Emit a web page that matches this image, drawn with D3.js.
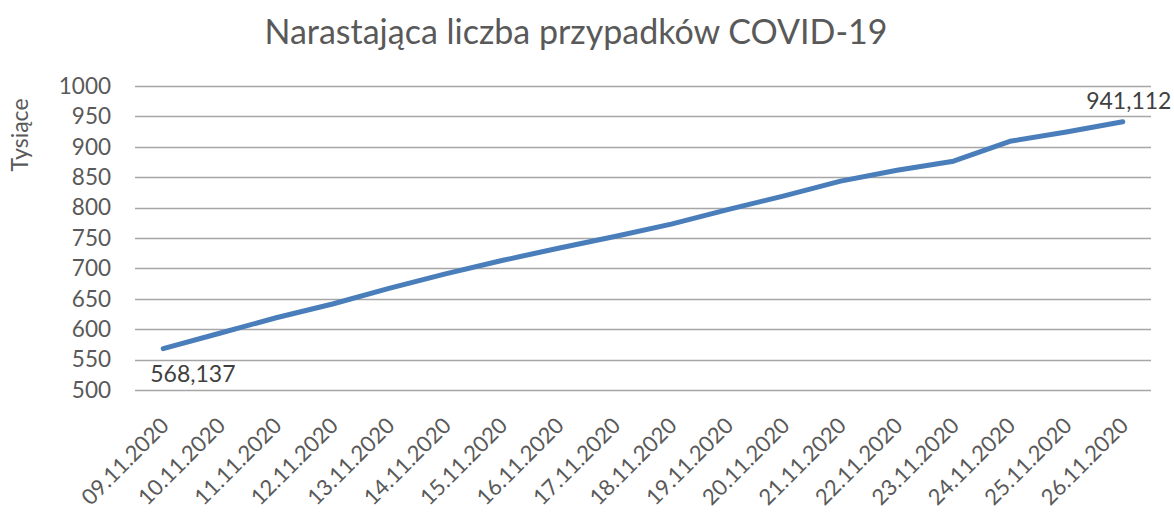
<!DOCTYPE html>
<html lang="pl">
<head>
  <meta charset="UTF-8">
  <title>Narastająca liczba przypadków COVID-19</title>
  <script src="https://d3js.org/d3.v7.min.js"></script>
  <style>
    body { margin: 0; background: #fff; }
    svg { display: block; font-family: Lato, "Open Sans", sans-serif; }
    .tick text { fill: #595959; }
  </style>
</head>
<body>
  <script>
    const dates = ["09.11.2020", "10.11.2020", "11.11.2020", "12.11.2020", "13.11.2020", "14.11.2020",
      "15.11.2020", "16.11.2020", "17.11.2020", "18.11.2020", "19.11.2020", "20.11.2020",
      "21.11.2020", "22.11.2020", "23.11.2020", "24.11.2020", "25.11.2020", "26.11.2020"];
    // cumulative cases, thousands
    const cases = [568.137, 593.362, 618.813, 641.496, 667.212, 691.118,
      712.972, 733.102, 752.449, 772.823, 796.798, 819.262,
      843.475, 861.331, 876.333, 909.066, 924.422, 941.112];
    const yTicks = [500, 550, 600, 650, 700, 750, 800, 850, 900, 950, 1000];
    const pointLabels = ["568,137", "941,112"];

    const width = 1174, height = 520;
    const margin = { top: 86, right: 23, bottom: 130, left: 135 };

    const svg = d3.select("body").append("svg")
      .attr("width", width)
      .attr("height", height);

    const x = d3.scaleBand()
      .domain(dates)
      .range([margin.left, width - margin.right]);

    const y = d3.scaleLinear()
      .domain([500, 1000])
      .range([height - margin.bottom, margin.top]);

    // gridlines
    svg.append("g")
      .selectAll("line")
      .data(yTicks)
      .join("line")
      .attr("x1", margin.left)
      .attr("x2", width - margin.right)
      .attr("y1", d => Math.round(y(d)) + 0.5)
      .attr("y2", d => Math.round(y(d)) + 0.5)
      .attr("stroke", "#a6a6a6")
      .attr("stroke-width", 1.3);

    // y axis labels
    const yAxis = svg.append("g")
      .attr("transform", `translate(${margin.left - 24},0)`)
      .call(d3.axisLeft(y).tickValues(yTicks).tickFormat(d3.format("d")).tickSize(0).tickPadding(0));
    yAxis.select(".domain").remove();
    yAxis.selectAll("text").attr("font-size", 22.5).attr("font-family", "Lato, sans-serif");

    // x axis labels
    const xAxis = svg.append("g")
      .attr("transform", `translate(0,${height - margin.bottom})`)
      .call(d3.axisBottom(x).tickSize(0).tickPadding(0));
    xAxis.select(".domain").remove();
    xAxis.selectAll("text")
      .attr("font-size", 22)
      .attr("font-family", "Lato, sans-serif")
      .attr("text-anchor", "end")
      .attr("dy", 0)
      .attr("transform", "translate(7,37) rotate(-45)");

    // line
    const cx = d => x(d) + x.bandwidth() / 2;
    svg.append("path")
      .datum(cases)
      .attr("fill", "none")
      .attr("stroke", "#4a7ebb")
      .attr("stroke-width", 5)
      .attr("stroke-linejoin", "round")
      .attr("stroke-linecap", "round")
      .attr("d", d3.line((d, i) => cx(dates[i])).y(d => y(d)));

    // data labels for first and last point
    const last = cases.length - 1;
    svg.append("text")
      .attr("x", cx(dates[0]) - 13)
      .attr("y", y(cases[0]) + 33)
      .attr("fill", "#404040")
      .attr("font-size", 23)
      .text(pointLabels[0]);
    svg.append("text")
      .attr("x", cx(dates[last]) + 6)
      .attr("y", y(cases[last]) - 13)
      .attr("text-anchor", "middle")
      .attr("fill", "#404040")
      .attr("font-size", 23)
      .text(pointLabels[1]);

    // axis title
    svg.append("text")
      .attr("transform", "translate(28,135) rotate(-90)")
      .attr("text-anchor", "middle")
      .attr("fill", "#595959")
      .attr("font-size", 23)
      .text("Tysiące");

    // chart title
    svg.append("text")
      .attr("x", 576)
      .attr("y", 44)
      .attr("text-anchor", "middle")
      .attr("fill", "#595959")
      .attr("font-size", 34)
      .text("Narastająca liczba przypadków COVID-19");
  </script>
</body>
</html>
